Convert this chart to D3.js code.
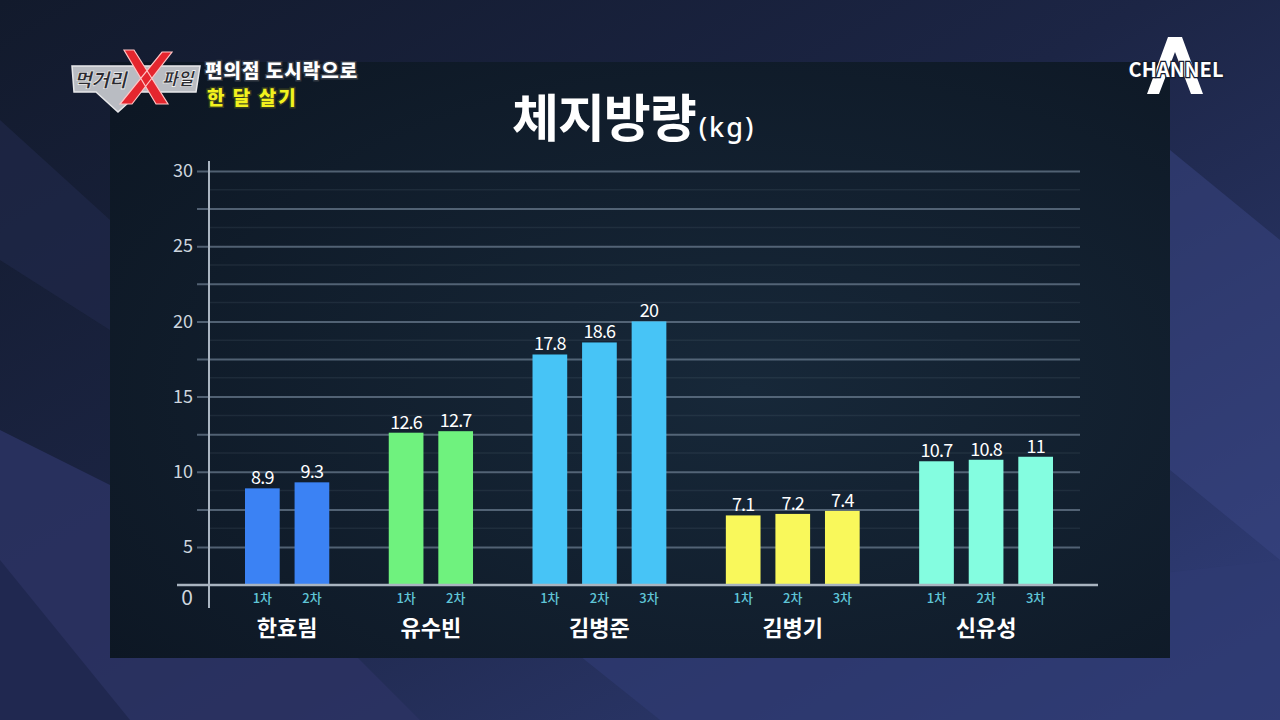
<!DOCTYPE html>
<html>
<head>
<meta charset="utf-8">
<script src="https://cdn.jsdelivr.net/npm/d3@7"></script>
<style>
  html, body { margin: 0; padding: 0; background: #151c30; }
  svg { display: block; }
  text { font-family: "Noto Sans CJK KR", "Noto Sans", sans-serif; }
</style>
</head>
<body>
<script>
/* Chart data */
var groups = ["한효림", "유수빈", "김병준", "김병기", "신유성"];
var values = [[8.9, 9.3], [12.6, 12.7], [17.8, 18.6, 20], [7.1, 7.2, 7.4], [10.7, 10.8, 11]];
var roundLabels = ["1차", "2차", "3차"];
var barColours = ["#3b82f4", "#6ff27e", "#47c4f6", "#f9f85b", "#84fde0"];
var yTickValues = [5, 10, 15, 20, 25, 30];

/* Sizes */
var width = 1280;
var height = 720;
var barUnits = 0.7;   // bar width, in bar-steps
var groupGap = 0.9;   // extra space between groups, in bar-steps

var svg = d3.select("body").append("svg")
  .attr("width", width)
  .attr("height", height);

var defs = svg.append("defs");

/* Background gradients */
var bg = defs.append("linearGradient").attr("id", "bg")
  .attr("x1", "0").attr("y1", "0").attr("x2", "1").attr("y2", "1");
bg.append("stop").attr("offset", "0").attr("stop-color", "#121a2c");
bg.append("stop").attr("offset", "0.45").attr("stop-color", "#1c2545");
bg.append("stop").attr("offset", "1").attr("stop-color", "#323f7c");

var panelGrad = defs.append("radialGradient").attr("id", "panel")
  .attr("cx", "0.6").attr("cy", "0.55").attr("r", "0.75");
panelGrad.append("stop").attr("offset", "0").attr("stop-color", "#172839");
panelGrad.append("stop").attr("offset", "1").attr("stop-color", "#0d1724");

svg.append("rect").attr("width", width).attr("height", height).attr("fill", "url(#bg)");

// lighter diagonal streaks behind the panel
svg.append("path")
  .attr("d", "M0,430 L260,560 L420,720 L0,720 Z")
  .attr("fill", "#2b3363").attr("opacity", 0.85);
svg.append("path")
  .attr("d", "M0,560 L130,720 L0,720 Z")
  .attr("fill", "#202850");
svg.append("path")
  .attr("d", "M560,640 L1280,560 L1280,720 L660,720 Z")
  .attr("fill", "#2f3a72").attr("opacity", 0.7);
svg.append("path")
  .attr("d", "M1170,150 L1280,240 L1280,560 L1170,470 Z")
  .attr("fill", "#3a4684").attr("opacity", 0.5);
svg.append("path")
  .attr("d", "M0,120 L110,220 L110,330 L0,260 Z")
  .attr("fill", "#222a4c").attr("opacity", 0.6);

/* Chart panel */
svg.append("rect")
  .attr("x", 110).attr("y", 62)
  .attr("width", 1060).attr("height", 596)
  .attr("fill", "url(#panel)");

/* Scales */
var y = d3.scaleLinear()
  .domain([0, 5, 30])
  .range([585, 547, 171]);

// lay every bar out in "bar-step" units, with a gap between groups
var bars = [];
var u = 0;
values.forEach(function(series, gi) {
  series.forEach(function(v, ri) {
    bars.push({group: gi, round: ri, value: v, u: u});
    u += 1;
  });
  u += groupGap;
});
var totalUnits = bars[bars.length - 1].u + barUnits;

var x = d3.scaleLinear()
  .domain([0, totalUnits])
  .range([245, 1053]);
var barWidth = x(barUnits) - x(0);

/* Gridlines every 2.5, labelled every 5 */
var g = svg.append("g");

var gridAxis = d3.axisLeft(y)
  .tickValues(d3.range(5, 30.01, 2.5))
  .tickSize(-(1080 - 197))
  .tickPadding(4)
  .tickFormat(function(d) { return yTickValues.indexOf(d) >= 0 ? d : ""; });

var axisG = g.append("g")
  .attr("transform", "translate(197,0)")
  .call(gridAxis);
axisG.select(".domain").remove();
axisG.selectAll(".tick line")
  .attr("stroke", "#7d8fa3")
  .attr("stroke-opacity", 0.6)
  .attr("stroke-width", 2);
axisG.selectAll(".tick text")
  .attr("fill", "#cdd5de")
  .attr("font-family", "'Noto Sans', sans-serif")
  .attr("font-size", 18);

// faint in-between lines
g.selectAll(".faint")
  .data(d3.range(6.25, 30, 2.5))
  .enter().append("line")
  .attr("class", "faint")
  .attr("x1", 209).attr("x2", 1080)
  .attr("y1", function(d) { return y(d); })
  .attr("y2", function(d) { return y(d); })
  .attr("stroke", "#6b7d90")
  .attr("stroke-opacity", 0.15)
  .attr("stroke-width", 1.5);

// zero label sits under the base line
g.append("text")
  .attr("x", 193).attr("y", y(0) + 20)
  .attr("text-anchor", "end")
  .attr("fill", "#cdd5de")
  .attr("font-family", "'Noto Sans', sans-serif")
  .attr("font-size", 21)
  .text("0");

/* Bars */
var barG = g.selectAll(".bar")
  .data(bars)
  .enter().append("g")
  .attr("class", "bar");

barG.append("rect")
  .attr("x", function(d) { return x(d.u); })
  .attr("y", function(d) { return y(d.value); })
  .attr("width", barWidth)
  .attr("height", function(d) { return y(0) - y(d.value); })
  .attr("fill", function(d) { return barColours[d.group]; });

barG.append("text")
  .attr("x", function(d) { return x(d.u) + barWidth / 2; })
  .attr("y", function(d) { return y(d.value) - 4; })
  .attr("text-anchor", "middle")
  .attr("fill", "#ffffff")
  .attr("font-family", "'Noto Sans', sans-serif")
  .attr("font-size", 18)
  .attr("letter-spacing", -0.8)
  .text(function(d) { return d.value; });

barG.append("text")
  .attr("x", function(d) { return x(d.u) + barWidth / 2; })
  .attr("y", 603)
  .attr("text-anchor", "middle")
  .attr("fill", "#5fc4d6")
  .attr("font-size", 13)
  .attr("font-weight", 500)
  .text(function(d) { return roundLabels[d.round]; });

/* Axis lines */
g.append("line")
  .attr("x1", 177).attr("x2", 1098)
  .attr("y1", y(0)).attr("y2", y(0))
  .attr("stroke", "#a9b4c0").attr("stroke-width", 2.5);
g.append("line")
  .attr("x1", 209).attr("x2", 209)
  .attr("y1", y(30) - 10).attr("y2", y(0) + 23)
  .attr("stroke", "#aab5c1").attr("stroke-width", 2);

/* Group names */
g.selectAll(".group-label")
  .data(groups)
  .enter().append("text")
  .attr("class", "group-label")
  .attr("x", function(d, i) {
    var gb = bars.filter(function(b) { return b.group === i; });
    return (x(gb[0].u) + x(gb[gb.length - 1].u) + barWidth) / 2;
  })
  .attr("y", 636)
  .attr("text-anchor", "middle")
  .attr("fill", "#ffffff")
  .attr("font-size", 22)
  .attr("font-weight", 700)
  .text(function(d) { return d; });

/* Title */
var title = svg.append("text")
  .attr("x", 512).attr("y", 137)
  .attr("fill", "#ffffff")
  .attr("font-weight", 700);
title.append("tspan").attr("font-size", 51).attr("letter-spacing", -1).text("체지방량");
title.append("tspan").attr("font-size", 27).attr("font-weight", 500)
  .attr("letter-spacing", 2)
  .attr("font-family", "'Noto Sans', sans-serif").attr("dx", 3).text("(kg)");

/* Programme logo, top left */
var logo = svg.append("g");
logo.append("path")
  .attr("d", "M72,66 L200,66 L196,92 L140,92 L118,112 L96,92 L74,92 Z")
  .attr("fill", "#b9bcc2").attr("stroke", "#e8e8ea").attr("stroke-width", 1.5);
logo.append("text")
  .attr("x", 74).attr("y", 87)
  .attr("fill", "#2a2a30").attr("stroke", "#ffffff").attr("stroke-width", 0.6)
  .attr("font-size", 19).attr("font-weight", 900).attr("font-style", "italic")
  .text("먹거리");
logo.append("text")
  .attr("x", 162).attr("y", 85)
  .attr("fill", "#2a2a30").attr("stroke", "#ffffff").attr("stroke-width", 0.6)
  .attr("font-size", 17).attr("font-weight", 900).attr("font-style", "italic")
  .text("파일");
// the red brush-stroke X of the programme logo
logo.append("path")
  .attr("d", "M124,50 L134,50 L168,104 L156,104 Z M162,52 L172,52 L132,104 L120,104 Z")
  .attr("fill", "#e5262e").attr("stroke", "#ffc4c4").attr("stroke-width", 1.2);
logo.append("text")
  .attr("x", 205).attr("y", 78)
  .attr("fill", "#ffffff").attr("stroke", "#333a44").attr("stroke-width", 3)
  .attr("paint-order", "stroke")
  .attr("font-size", 19).attr("font-weight", 900)
  .attr("letter-spacing", 1)
  .text("편의점 도시락으로");
logo.append("text")
  .attr("x", 207).attr("y", 105)
  .attr("fill", "#f2f21e").attr("stroke", "#333a20").attr("stroke-width", 3)
  .attr("paint-order", "stroke")
  .attr("font-size", 19).attr("font-weight", 900)
  .attr("letter-spacing", 2)
  .text("한 달 살기");

/* Channel A logo, top right */
var ch = svg.append("g");
ch.append("path")
  .attr("d", "M1168,37 L1182,37 L1203,94 L1191,94 L1175,52 L1159,94 L1147,94 Z")
  .attr("fill", "#ffffff");
ch.append("text")
  .attr("x", 1176).attr("y", 77)
  .attr("text-anchor", "middle")
  .attr("fill", "#ffffff").attr("stroke", "#141c30").attr("stroke-width", 2.5)
  .attr("paint-order", "stroke")
  .attr("font-family", "'Liberation Sans Narrow', 'DejaVu Sans Condensed', sans-serif")
  .attr("font-size", 20).attr("font-weight", 700)
  .text("CHANNEL");
</script>
</body>
</html>
